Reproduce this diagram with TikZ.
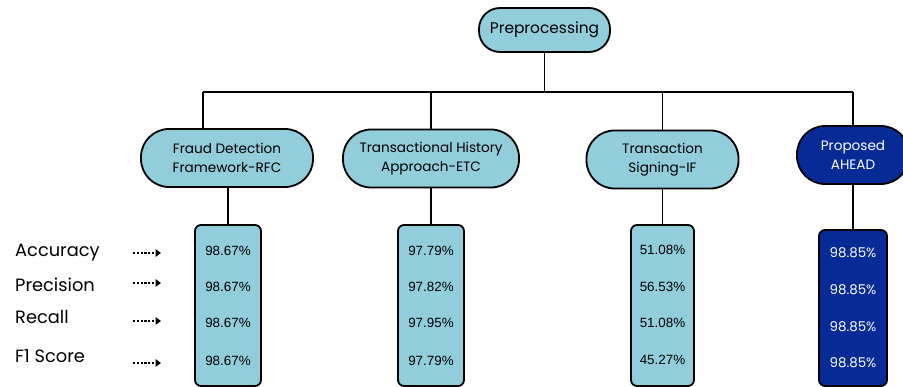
\documentclass[tikz,border=0pt]{standalone}
\usepackage{fontspec}
\setmainfont{Poppins}
\newfontfamily\valfont{Liberation Sans}
\usetikzlibrary{arrows.meta}
\definecolor{paleblue}{HTML}{92CDDC}
\definecolor{deepblue}{HTML}{062A96}

\begin{document}
\begin{tikzpicture}[x=1pt,y=-1pt,
  wire/.style={draw=black, line width=1.8pt},
  pill/.style={draw=black, line width=1.8pt, fill=paleblue, rounded corners=28pt,
    minimum height=58pt, align=center, inner sep=0pt,
    font=\fontsize{13.6}{19}\selectfont},
  darkpill/.style={pill, fill=deepblue, text=white},
  scorebox/.style={draw=black, line width=1.8pt, fill=paleblue, rounded corners=6pt,
    inner sep=0pt},
  darkscorebox/.style={scorebox, fill=deepblue},
  score/.style={anchor=base, inner sep=0pt, font=\valfont\fontsize{13.4}{15}\selectfont},
  darkscore/.style={anchor=base, inner sep=0pt, text=white, font=\fontsize{13.4}{15}\selectfont},
  metric/.style={anchor=base west, inner sep=0pt, font=\fontsize{17.8}{20}\selectfont},
  pointer/.style={line width=2.4pt, dash pattern=on 2.2pt off 1.6pt,
    -{Triangle[length=5.5pt,width=7.5pt]}},
]
\clip (0,0) rectangle (903,387);

% root
\node[pill, minimum width=131pt, minimum height=44pt, rounded corners=21pt,
      font=\fontsize{15.4}{17}\selectfont] (pre) at (544.5,30) {Preprocessing};

% methods
\node[pill, minimum width=172pt] (rfc) at (227,158) {Fraud Detection\\Framework-RFC};
\node[pill, minimum width=176pt] (etc) at (431,158.5) {Transactional History\\Approach-ETC};
\node[pill, minimum width=152pt] (ifm) at (662.5,159.5) {Transaction\\Signing-IF};
\node[darkpill, minimum width=112pt] (ahead) at (853,155) {Proposed\\AHEAD};

% branch bus
\coordinate (j1) at (203,92);
\coordinate (j4) at (853,92);
\draw[wire] (pre.south) -- (pre.south |- j1);
\draw[wire] (j1) -- (j4);
\draw[wire] (j1) -- (j1 |- rfc.north);
\draw[wire] (etc.north |- j1) -- (etc.north);
\draw[wire] (ifm.north |- j1) -- (ifm.north);
\draw[wire] (j4) -- (ahead.north);

% score columns
\node[scorebox, minimum width=66pt, minimum height=161pt] (brfc) at (228,305.5) {};
\node[scorebox, minimum width=66pt, minimum height=161pt] (betc) at (431,305.5) {};
\node[scorebox, minimum width=63pt, minimum height=161pt] (bifm) at (662.5,305.5) {};
\node[darkscorebox, minimum width=68pt, minimum height=156pt] (bahead) at (853,308) {};

\draw[wire] (brfc.north |- rfc.south) -- (brfc.north);
\draw[wire] (etc.south) -- (betc.north);
\draw[wire] (ifm.south) -- (bifm.north);
\draw[wire] (ahead.south) -- (bahead.north);

% scores
\node[score] (r1) at (228,256) {98.67\%};
\node[score] (r2) at (228,292) {98.67\%};
\node[score] (r3) at (228,328) {98.67\%};
\node[score] (r4) at (228,366) {98.67\%};
\node[score] (e1) at (431,256) {97.79\%};
\node[score] (e2) at (431,292) {97.82\%};
\node[score] (e3) at (431,328) {97.95\%};
\node[score] (e4) at (431,366) {97.79\%};
\node[score] (i1) at (662.5,255) {51.08\%};
\node[score] (i2) at (662.5,292) {56.53\%};
\node[score] (i3) at (662.5,328) {51.08\%};
\node[score] (i4) at (662.5,365) {45.27\%};
\node[darkscore] (a1) at (853,258) {98.85\%};
\node[darkscore] (a2) at (853,295) {98.85\%};
\node[darkscore] (a3) at (853,332) {98.85\%};
\node[darkscore] (a4) at (853,368) {98.85\%};

% metric labels with pointers
\node[metric] (acc) at (15,257) {Accuracy};
\node[metric] (prec) at (15,292) {Precision};
\node[metric] (rec) at (15,324) {Recall};
\node[metric] (f1) at (15,363) {F1 Score};

\coordinate (p1s) at (133,253); \coordinate (p1e) at (161,253);
\coordinate (p2s) at (133,283); \coordinate (p2e) at (161,283);
\coordinate (p3s) at (133,321); \coordinate (p3e) at (161,321);
\coordinate (p4s) at (133,363); \coordinate (p4e) at (161,363);
\draw[pointer] (p1s) -- (p1e);
\draw[pointer] (p2s) -- (p2e);
\draw[pointer] (p3s) -- (p3e);
\draw[pointer] (p4s) -- (p4e);
\end{tikzpicture}
\end{document}
